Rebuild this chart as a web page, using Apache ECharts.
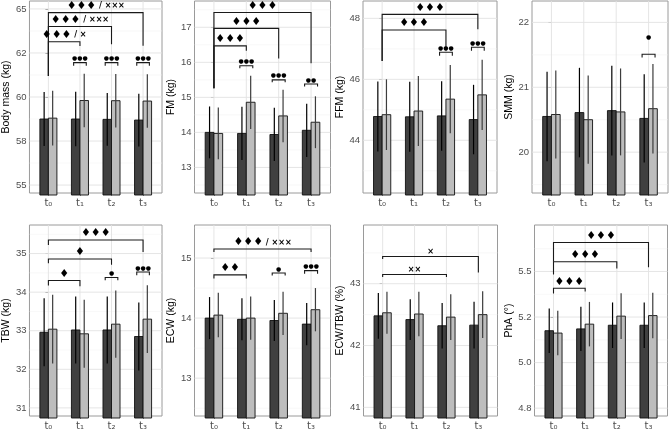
<!DOCTYPE html>
<html>
<head>
<meta charset="utf-8">
<script src="https://cdn.jsdelivr.net/npm/echarts@6/dist/echarts.min.js"></script>
<style>
html, body { margin: 0; padding: 0; background: #fff; }
#chart { width: 669px; height: 431px; }
</style>
</head>
<body>
<div id="chart"></div>
<script>
// x categories (timepoints)
var timeLabels = ['t₀', 't₁', 't₂', 't₃'];
var timeIdx = [0, 1, 2, 3];

// sig rows: [x1, x2, yTop, yLeftEnd, yRightEnd, symbols, suffix, (label base y)]

// Body mass (kg)
var bmDark = [58.75, 58.75, 58.73, 58.69];
var bmDarkSd = [1.53, 1.55, 1.50, 1.50];
var bmLight = [58.80, 59.80, 59.79, 59.77];
var bmLightSd = [1.55, 1.52, 1.52, 1.52];
var bmTicks = [55, 57.5, 60, 62.5, 65];
var bmTickLabels = ['55', '58', '60', '62', '65'];
var bmSig = [
    [0, 3, 64.79, 61.19, 62.91, '♦♦♦', '/ ×××'],
    [0, 2, 64.00, 61.19, 62.99, '♦♦♦', '/ ×××'],
    [0, 1, 63.14, 61.19, 62.90, '♦♦♦', '/ ×'],
    [0.8, 1.2, 61.95, 61.78, 61.78, '●●●', ''],
    [1.8, 2.2, 61.95, 61.78, 61.78, '●●●', ''],
    [2.8, 3.2, 61.95, 61.78, 61.78, '●●●', '']
];

// FM (kg)
var fmDark = [14.00, 13.97, 13.94, 14.06];
var fmDarkSd = [0.74, 0.76, 0.76, 0.76];
var fmLight = [13.97, 14.86, 14.47, 14.29];
var fmLightSd = [0.74, 0.76, 0.75, 0.74];
var fmTicks = [13, 14, 15, 16, 17];
var fmTickLabels = ['13', '14', '15', '16', '17'];
var fmSig = [
    [0, 3, 17.42, 15.26, 15.97, '♦♦♦', ''],
    [0, 2, 16.97, 15.26, 16.11, '♦♦♦', ''],
    [0, 1, 16.47, 15.26, 16.33, '♦♦♦', ''],
    [0.8, 1.2, 15.90, 15.83, 15.83, '●●●', ''],
    [1.8, 2.2, 15.50, 15.43, 15.43, '●●●', ''],
    [2.8, 3.2, 15.38, 15.31, 15.31, '●●', '']
];

// FFM (kg)
var ffmDark = [44.78, 44.77, 44.80, 44.68];
var ffmDarkSd = [1.15, 1.15, 1.14, 1.14];
var ffmLight = [44.84, 44.96, 45.35, 45.49];
var ffmLightSd = [1.16, 1.15, 1.12, 1.15];
var ffmTicks = [44, 46, 48];
var ffmTickLabels = ['44', '46', '48'];
var ffmSig = [
    [0, 3, 48.13, 46.60, 47.64, '♦♦♦', ''],
    [0, 2, 47.62, 46.60, 46.98, '♦♦♦', ''],
    [1.8, 2.2, 46.89, 46.77, 46.77, '●●●', ''],
    [2.8, 3.2, 47.05, 46.94, 46.94, '●●●', '']
];

// SMM (kg)
var smmDark = [20.55, 20.61, 20.64, 20.52];
var smmDarkSd = [0.69, 0.69, 0.69, 0.68];
var smmLight = [20.58, 20.50, 20.62, 20.67];
var smmLightSd = [0.68, 0.68, 0.67, 0.69];
var smmTicks = [20, 21, 22];
var smmTickLabels = ['20', '21', '22'];
var smmSig = [
    [2.8, 3.2, 21.51, 21.46, 21.46, '●', '', 21.72]
];

// TBW (kg)
var tbwDark = [32.96, 33.02, 33.02, 32.85];
var tbwDarkSd = [0.88, 0.87, 0.87, 0.88];
var tbwLight = [33.04, 32.92, 33.17, 33.30];
var tbwLightSd = [0.89, 0.88, 0.87, 0.88];
var tbwTicks = [31, 32, 33, 34, 35];
var tbwTickLabels = ['31', '32', '33', '34', '35'];
var tbwSig = [
    [0, 3, 35.35, 35.22, 35.04, '♦♦♦', ''],
    [0, 2, 34.86, 34.75, 34.71, '♦', ''],
    [0, 1, 34.30, 34.17, 34.15, '♦', ''],
    [1.8, 2.2, 34.38, 34.31, 34.31, '●', ''],
    [2.8, 3.2, 34.52, 34.44, 34.44, '●●●', '']
];

// ECW (kg)
var ecwDark = [14.00, 13.98, 13.96, 13.90];
var ecwDarkSd = [0.35, 0.35, 0.34, 0.35];
var ecwLight = [14.05, 14.00, 14.08, 14.14];
var ecwLightSd = [0.37, 0.36, 0.36, 0.36];
var ecwTicks = [13, 14, 15];
var ecwTickLabels = ['13', '14', '15'];
var ecwSig = [
    [0, 3, 15.15, 15.10, 15.10, '♦♦♦', '/ ×××'],
    [0, 1, 14.72, 14.66, 14.66, '♦♦', ''],
    [1.8, 2.2, 14.75, 14.71, 14.71, '●', ''],
    [2.8, 3.2, 14.79, 14.74, 14.74, '●●●', '']
];

// ECW/TBW (%)
var ratioDark = [42.48, 42.42, 42.32, 42.33];
var ratioDarkSd = [0.37, 0.33, 0.37, 0.38];
var ratioLight = [42.53, 42.51, 42.46, 42.50];
var ratioLightSd = [0.34, 0.36, 0.37, 0.38];
var ratioTicks = [41, 42, 43];
var ratioTickLabels = ['41', '42', '43'];
var ratioSig = [
    [0, 3, 43.44, 43.40, 43.18, '', '×'],
    [0, 2, 43.15, 43.11, 43.11, '', '××']
];

// PhA (°)
var phaDark = [5.175, 5.185, 5.205, 5.205];
var phaDarkSd = [0.122, 0.121, 0.125, 0.125];
var phaLight = [5.162, 5.211, 5.255, 5.258];
var phaLightSd = [0.122, 0.122, 0.125, 0.125];
var phaTicks = [4.75, 5.0, 5.25, 5.5];
var phaTickLabels = ['4.8', '5.0', '5.2', '5.5'];
var phaSig = [
    [0, 3, 5.659, 5.553, 5.523, '♦♦♦', ''],
    [0, 2, 5.553, 5.484, 5.516, '♦♦♦', ''],
    [0, 1, 5.408, 5.379, 5.390, '♦♦♦', '']
];

var panels = [
    {title: 'Body mass (kg)', dark: bmDark, darkSd: bmDarkSd, light: bmLight, lightSd: bmLightSd, ticks: bmTicks, labels: bmTickLabels, sig: bmSig},
    {title: 'FM (kg)', dark: fmDark, darkSd: fmDarkSd, light: fmLight, lightSd: fmLightSd, ticks: fmTicks, labels: fmTickLabels, sig: fmSig},
    {title: 'FFM (kg)', dark: ffmDark, darkSd: ffmDarkSd, light: ffmLight, lightSd: ffmLightSd, ticks: ffmTicks, labels: ffmTickLabels, sig: ffmSig},
    {title: 'SMM (kg)', dark: smmDark, darkSd: smmDarkSd, light: smmLight, lightSd: smmLightSd, ticks: smmTicks, labels: smmTickLabels, sig: smmSig},
    {title: 'TBW (kg)', dark: tbwDark, darkSd: tbwDarkSd, light: tbwLight, lightSd: tbwLightSd, ticks: tbwTicks, labels: tbwTickLabels, sig: tbwSig},
    {title: 'ECW (kg)', dark: ecwDark, darkSd: ecwDarkSd, light: ecwLight, lightSd: ecwLightSd, ticks: ecwTicks, labels: ecwTickLabels, sig: ecwSig},
    {title: 'ECW/TBW (%)', dark: ratioDark, darkSd: ratioDarkSd, light: ratioLight, lightSd: ratioLightSd, ticks: ratioTicks, labels: ratioTickLabels, sig: ratioSig},
    {title: 'PhA (°)', dark: phaDark, darkSd: phaDarkSd, light: phaLight, lightSd: phaLightSd, ticks: phaTicks, labels: phaTickLabels, sig: phaSig}
];

// [left, top, width, height, yMin, yMax, nameGap]
var layout = [
    [26, 1, 136, 192, 54.55, 65.45, 14],
    [194.5, 1, 136, 192, 12.27, 17.75, 12],
    [363, 1, 134, 192, 42.27, 48.57, 14],
    [532, 1, 136, 192, 19.37, 22.33, 15],
    [26, 225, 136, 193, 30.79, 35.74, 15],
    [194.5, 225, 136, 193, 12.37, 15.55, 13],
    [363.5, 225, 134, 193, 40.86, 43.95, 16],
    [534.5, 225, 133, 193, 4.707, 5.755, 18]
];

var BW = 0.27;          // width of one bar in x units
var GRID_COL = '#e2e2e2';
var MINOR_COL = '#f0f0f0';

function gridItem(params, api) {
    var cs = params.coordSys;
    var kind = api.value(2);
    if (kind === 2) {
        var x = api.coord([api.value(0), api.value(1)])[0];
        return {type: 'line', shape: {x1: x, y1: cs.y, x2: x, y2: cs.y + cs.height},
            style: {stroke: GRID_COL, lineWidth: 0.9}};
    }
    var y = api.coord([api.value(0), api.value(1)])[1];
    return {type: 'line', shape: {x1: cs.x, y1: y, x2: cs.x + cs.width, y2: y},
        style: {stroke: kind === 1 ? GRID_COL : MINOR_COL, lineWidth: kind === 1 ? 0.9 : 0.5}};
}

function barItem(params, api) {
    var cs = params.coordSys;
    var t = api.value(0), m = api.value(1), sd = api.value(2), g = api.value(3);
    var xc = t + (g ? BW / 2 : -BW / 2);
    var top = api.coord([xc, m]);
    var w = api.size([BW, 0])[0];
    var hi = api.coord([xc, m + sd]);
    var lo = api.coord([xc, m - sd]);
    return {type: 'group', children: [
        {type: 'rect', shape: {x: top[0] - w / 2, y: top[1], width: w, height: cs.y + cs.height + 2 - top[1]},
            style: {fill: g ? '#bdbdbd' : '#404040', stroke: '#111', lineWidth: 0.9}},
        {type: 'line', shape: {x1: hi[0], y1: hi[1], x2: lo[0], y2: lo[1]},
            style: {stroke: g ? '#3c3c3c' : '#000', lineWidth: 1.2}}
    ]};
}

function sigText(sym, suffix) {
    var s = '';
    if (sym) s += (sym.charAt(0) === '♦' ? '{d|' : '{c|') + sym + '}';
    if (suffix) s += '{x|' + (sym ? ' ' : '') + suffix + '}';
    return s;
}

function sigRenderer(sig) {
    return function (params, api) {
        var b = sig[params.dataIndex];
        var l0 = api.coord([b[0], b[3]]);
        var lt = api.coord([b[0], b[2]]);
        var rt = api.coord([b[1], b[2]]);
        var r0 = api.coord([b[1], b[4]]);
        var mid = (lt[0] + rt[0]) / 2;
        var ty = b[7] != null ? api.coord([b[0], b[7]])[1] : lt[1] - 1;
        return {type: 'group', children: [
            {type: 'polyline', shape: {points: [l0, lt, rt, r0]},
                style: {stroke: '#1a1a1a', lineWidth: 1.1, fill: null}},
            {type: 'text', x: mid, y: ty, style: {
                text: sigText(b[5], b[6]),
                align: 'center', verticalAlign: 'bottom',
                rich: {
                    d: {fontSize: 11, fontFamily: 'DejaVu Sans', fill: '#000'},
                    c: {fontSize: 6, fontFamily: 'DejaVu Sans', fill: '#000'},
                    x: {fontSize: 8, fontFamily: 'DejaVu Sans', fontWeight: 'bold', fill: '#000'}
                }
            }}
        ]};
    };
}

function minorTicks(ticks, lo, hi) {
    var out = [];
    var step = ticks[1] - ticks[0];
    var cand = [ticks[0] - step / 2];
    for (var i = 0; i < ticks.length - 1; i++) cand.push((ticks[i] + ticks[i + 1]) / 2);
    cand.push(ticks[ticks.length - 1] + step / 2);
    cand.forEach(function (v) { if (v > lo && v < hi) out.push(v); });
    return out;
}

var grid = [], xAxis = [], yAxis = [], series = [];

panels.forEach(function (p, i) {
    var L = layout[i];
    grid.push({left: L[0], top: L[1], width: L[2], height: L[3], show: true,
        borderColor: '#9a9a9a', borderWidth: 1, backgroundColor: '#fff'});

    xAxis.push({
        type: 'value', gridIndex: i, min: -0.6, max: 3.6,
        axisLine: {show: false}, splitLine: {show: false},
        axisTick: {show: true, customValues: timeIdx, length: 3, lineStyle: {color: '#8a8a8a'}},
        axisLabel: {customValues: timeIdx, formatter: function (v) { return timeLabels[Math.round(v)]; },
            color: '#4d4d4d', fontSize: 10, margin: 5, fontFamily: 'DejaVu Sans'}
    });

    yAxis.push({
        type: 'value', gridIndex: i, min: L[4], max: L[5],
        name: p.title, nameLocation: 'middle', nameGap: L[6], nameRotate: 90,
        nameTextStyle: {color: '#000', fontSize: 10.5, fontFamily: 'Liberation Sans'},
        axisLine: {show: false}, splitLine: {show: false},
        axisTick: {show: true, customValues: p.ticks, length: 3, lineStyle: {color: '#8a8a8a'}},
        axisLabel: {customValues: p.ticks, color: '#4d4d4d', fontSize: 9.5, margin: 3,
            fontFamily: 'Liberation Sans',
            formatter: function (v) {
                var k = 0;
                p.ticks.forEach(function (t, j) { if (Math.abs(t - v) < Math.abs(p.ticks[k] - v)) k = j; });
                return p.labels[k];
            }}
    });

    var gridData = [];
    p.ticks.forEach(function (v) { gridData.push([0, v, 1]); });
    minorTicks(p.ticks, L[4], L[5]).forEach(function (v) { gridData.push([0, v, 0]); });
    timeIdx.forEach(function (t) { gridData.push([t, L[4], 2]); });

    series.push({type: 'custom', xAxisIndex: i, yAxisIndex: i, silent: true, z: 1,
        renderItem: gridItem, data: gridData});

    var barData = [];
    timeIdx.forEach(function (t) {
        barData.push([t, p.dark[t], p.darkSd[t], 0]);
        barData.push([t, p.light[t], p.lightSd[t], 1]);
    });
    series.push({type: 'custom', xAxisIndex: i, yAxisIndex: i, silent: true, z: 2,
        renderItem: barItem, data: barData});

    series.push({type: 'custom', xAxisIndex: i, yAxisIndex: i, silent: true, z: 3,
        renderItem: sigRenderer(p.sig),
        data: p.sig.map(function (b) { return [(b[0] + b[1]) / 2, b[2]]; })});
});

var chart = echarts.init(document.getElementById('chart'), null, {renderer: 'canvas'});
chart.setOption({
    animation: false,
    backgroundColor: '#fff',
    grid: grid,
    xAxis: xAxis,
    yAxis: yAxis,
    series: series
});
</script>
</body>
</html>
